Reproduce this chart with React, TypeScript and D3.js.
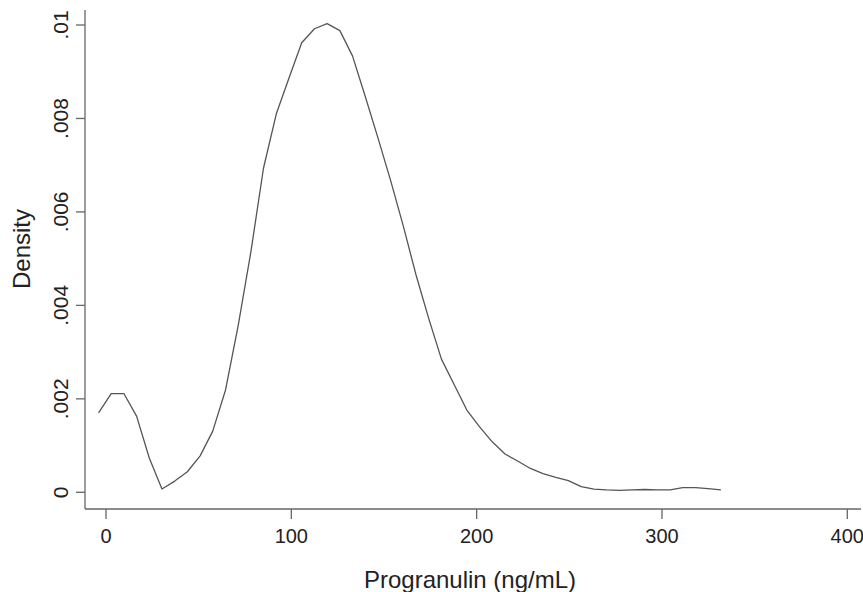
import React from 'react';
import * as d3 from 'd3';

// kernel density estimate of progranulin (50 evaluation points)
const gridX = [
  -4.0, 2.8, 9.7, 16.5, 23.4, 30.2, 37.1, 43.9, 50.8, 57.6,
  64.5, 71.3, 78.2, 85.0, 91.9, 98.8, 105.6, 112.5, 119.3, 126.2,
  133.0, 139.9, 146.7, 153.6, 160.4, 167.3, 174.2, 181.0, 187.9, 194.7,
  201.6, 208.4, 215.3, 222.1, 229.0, 235.8, 242.7, 249.5, 256.4, 263.3,
  270.1, 277.0, 283.8, 290.7, 297.5, 304.4, 311.2, 318.1, 324.9, 331.8,
];
const density = [
  0.00170, 0.00211, 0.00211, 0.00163, 0.00073, 0.00007, 0.00024, 0.00044, 0.00078, 0.00131,
  0.00219, 0.00356, 0.00515, 0.00694, 0.00810, 0.00887, 0.00962, 0.00992, 0.01003, 0.00988,
  0.00934, 0.00847, 0.00759, 0.00667, 0.00570, 0.00465, 0.00371, 0.00285, 0.00230, 0.00176,
  0.00140, 0.00108, 0.00082, 0.00067, 0.00051, 0.00040, 0.00032, 0.00025, 0.00012, 0.00007,
  0.00005, 0.00004, 0.00005, 0.00006, 0.00005, 0.00005, 0.00010, 0.00010, 0.00008, 0.00005,
];
const xTicks = [0, 100, 200, 300, 400];
const yTicks = [0, 0.002, 0.004, 0.006, 0.008, 0.01];
const yTickLabels = ['0', '.002', '.004', '.006', '.008', '.01'];

const W = 863;
const H = 592;
const axisX = 85;   // position of the y axis line
const axisY = 509;  // position of the x axis line
const font = '"Liberation Sans", Arial, sans-serif';

export default function App() {
  const x = d3.scaleLinear().domain([0, 400]).range([106, 847.3]);
  const y = d3.scaleLinear().domain([0, 0.01]).range([492.3, 25]);

  const line = d3.line<number>()
    .x((_, i) => x(gridX[i]))
    .y(d => y(d));

  return (
    <svg width={W} height={H} style={{ position: 'absolute', left: 0, top: 0, background: '#fff' }}
      fontFamily={font}>
      {/* axes */}
      <line x1={axisX} x2={axisX} y1={10} y2={axisY} stroke="#666" strokeWidth={1.3} />
      <line x1={axisX} x2={861} y1={axisY} y2={axisY} stroke="#666" strokeWidth={1.3} />

      {yTicks.map((t, i) => (
        <g key={'y' + i}>
          <line x1={axisX - 9} x2={axisX} y1={y(t)} y2={y(t)} stroke="#666" strokeWidth={1.3} />
          <text transform={`translate(68,${y(t)}) rotate(-90)`} textAnchor="middle"
            fontSize={21} fill="#222">{yTickLabels[i]}</text>
        </g>
      ))}

      {xTicks.map(t => (
        <g key={'x' + t}>
          <line x1={x(t)} x2={x(t)} y1={axisY} y2={axisY + 10} stroke="#666" strokeWidth={1.3} />
          <text x={x(t)} y={543} textAnchor="middle" fontSize={20} fill="#222">{t}</text>
        </g>
      ))}

      {/* axis titles */}
      <text x={470} y={588} textAnchor="middle" fontSize={24} fill="#222">Progranulin (ng/mL)</text>
      <text transform="translate(30,249) rotate(-90)" textAnchor="middle" fontSize={24} fill="#222">Density</text>

      {/* density curve */}
      <path d={line(density) || ''} fill="none" stroke="#555" strokeWidth={1.3} strokeLinejoin="round" />
    </svg>
  );
}
